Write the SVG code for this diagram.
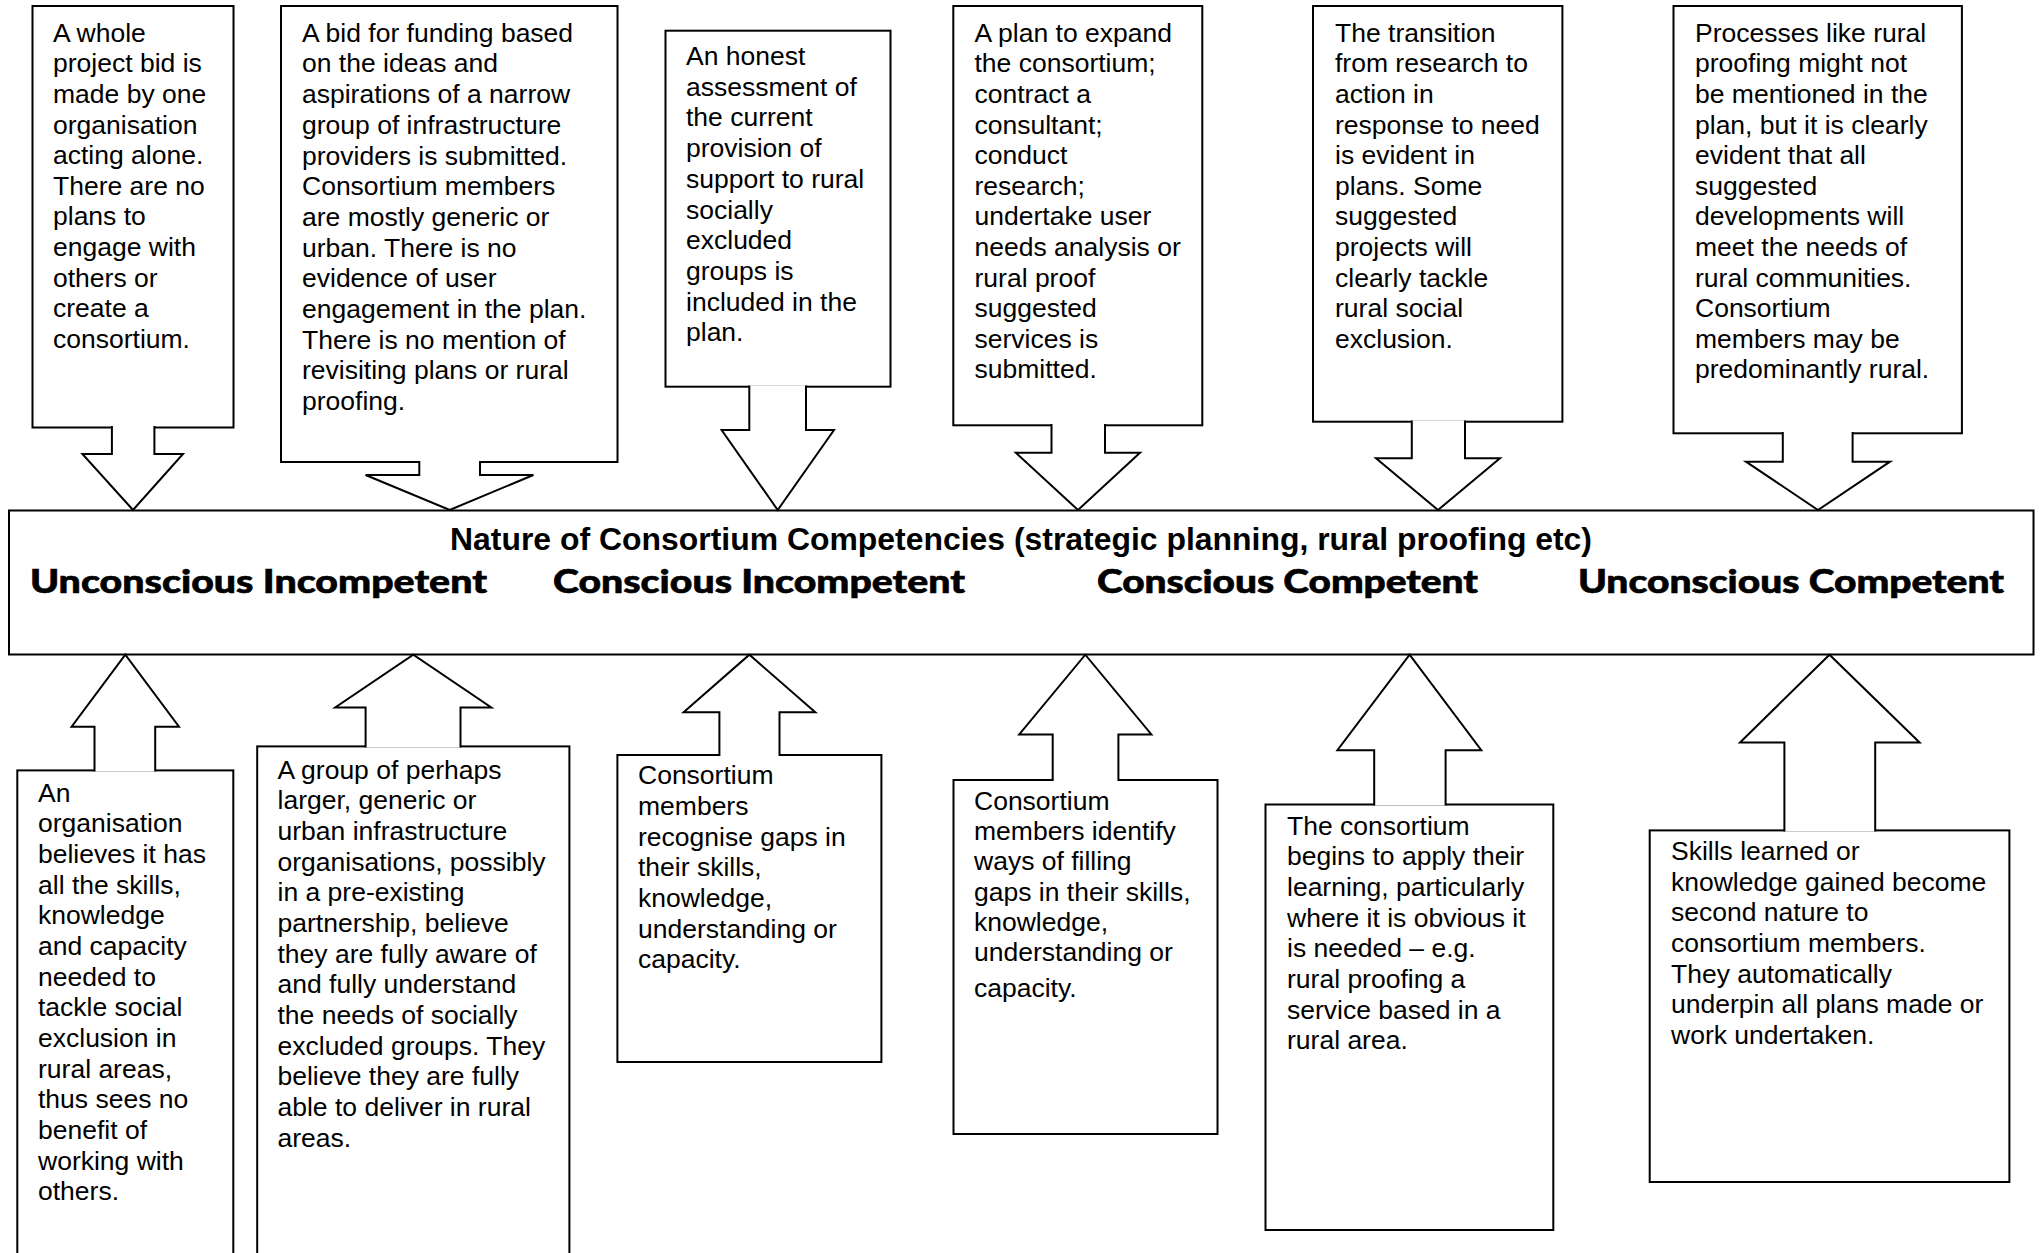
<svg xmlns="http://www.w3.org/2000/svg" width="2040" height="1253" viewBox="0 0 2040 1253">
  <style>
    .box { fill: #fff; stroke: #000; stroke-width: 2; }
    .arrow { fill: #fff; stroke: #000; stroke-width: 2; stroke-linejoin: miter; }
    .t { font-family: "Liberation Sans", Arial, Helvetica, sans-serif; font-size: 26.5px; fill: #000; }
    .head { font-family: "Liberation Sans", Arial, Helvetica, sans-serif; font-size: 31px; font-weight: bold; fill: #000; }
    .stage { font-family: "Arial Black", "Lato", "Inter", "Liberation Sans", sans-serif; font-size: 32px; font-weight: 900; fill: #000; stroke: #000; stroke-width: 0.6; }
  </style>
  <rect width="2040" height="1253" fill="#fff"/>

  <!-- central band: competency scale -->
  <g id="scale">
    <rect class="box" x="9" y="510.5" width="2024.5" height="144"/>
    <text class="head" x="1021" y="550" text-anchor="middle" textLength="1142" lengthAdjust="spacingAndGlyphs">Nature of Consortium Competencies (strategic planning, rural proofing etc)</text>
    <text class="stage" x="30" y="593" textLength="457" lengthAdjust="spacingAndGlyphs">Unconscious Incompetent</text>
    <text class="stage" x="553" y="593" textLength="412" lengthAdjust="spacingAndGlyphs">Conscious Incompetent</text>
    <text class="stage" x="1097" y="593" textLength="381" lengthAdjust="spacingAndGlyphs">Conscious Competent</text>
    <text class="stage" x="1578" y="593" textLength="426" lengthAdjust="spacingAndGlyphs">Unconscious Competent</text>
  </g>

  <!-- upper descriptions (plans) -->
  <g id="plan-1">
    <rect class="box" x="32.5" y="6" width="201" height="421.5"/>
    <text class="t" x="53" y="41.7"><tspan x="53">A whole</tspan><tspan x="53" dy="30.6">project bid is</tspan><tspan x="53" dy="30.6">made by one</tspan><tspan x="53" dy="30.6">organisation</tspan><tspan x="53" dy="30.6">acting alone.</tspan><tspan x="53" dy="30.6">There are no</tspan><tspan x="53" dy="30.6">plans to</tspan><tspan x="53" dy="30.6">engage with</tspan><tspan x="53" dy="30.6">others or</tspan><tspan x="53" dy="30.6">create a</tspan><tspan x="53" dy="30.6">consortium.</tspan></text>
  </g>
  <g id="plan-2">
    <rect class="box" x="281" y="6" width="336.5" height="456"/>
    <text class="t" x="302" y="41.7"><tspan x="302">A bid for funding based</tspan><tspan x="302" dy="30.7">on the ideas and</tspan><tspan x="302" dy="30.7">aspirations of a narrow</tspan><tspan x="302" dy="30.7">group of infrastructure</tspan><tspan x="302" dy="30.7">providers is submitted.</tspan><tspan x="302" dy="30.7">Consortium members</tspan><tspan x="302" dy="30.7">are mostly generic or</tspan><tspan x="302" dy="30.7">urban. There is no</tspan><tspan x="302" dy="30.7">evidence of user</tspan><tspan x="302" dy="30.7">engagement in the plan.</tspan><tspan x="302" dy="30.7">There is no mention of</tspan><tspan x="302" dy="30.7">revisiting plans or rural</tspan><tspan x="302" dy="30.7">proofing.</tspan></text>
  </g>
  <g id="plan-3">
    <rect class="box" x="665.5" y="30.7" width="225" height="356"/>
    <text class="t" x="686" y="65"><tspan x="686">An honest</tspan><tspan x="686" dy="30.7">assessment of</tspan><tspan x="686" dy="30.7">the current</tspan><tspan x="686" dy="30.7">provision of</tspan><tspan x="686" dy="30.7">support to rural</tspan><tspan x="686" dy="30.7">socially</tspan><tspan x="686" dy="30.7">excluded</tspan><tspan x="686" dy="30.7">groups is</tspan><tspan x="686" dy="30.7">included in the</tspan><tspan x="686" dy="30.7">plan.</tspan></text>
  </g>
  <g id="plan-4">
    <rect class="box" x="953.3" y="6" width="249" height="419.3"/>
    <text class="t" x="974.5" y="41.7"><tspan x="974.5">A plan to expand</tspan><tspan x="974.5" dy="30.6">the consortium;</tspan><tspan x="974.5" dy="30.6">contract a</tspan><tspan x="974.5" dy="30.6">consultant;</tspan><tspan x="974.5" dy="30.6">conduct</tspan><tspan x="974.5" dy="30.6">research;</tspan><tspan x="974.5" dy="30.6">undertake user</tspan><tspan x="974.5" dy="30.6">needs analysis or</tspan><tspan x="974.5" dy="30.6">rural proof</tspan><tspan x="974.5" dy="30.6">suggested</tspan><tspan x="974.5" dy="30.6">services is</tspan><tspan x="974.5" dy="30.6">submitted.</tspan></text>
  </g>
  <g id="plan-5">
    <rect class="box" x="1313" y="6" width="249.4" height="415.7"/>
    <text class="t" x="1335" y="41.7"><tspan x="1335">The transition</tspan><tspan x="1335" dy="30.6">from research to</tspan><tspan x="1335" dy="30.6">action in</tspan><tspan x="1335" dy="30.6">response to need</tspan><tspan x="1335" dy="30.6">is evident in</tspan><tspan x="1335" dy="30.6">plans. Some</tspan><tspan x="1335" dy="30.6">suggested</tspan><tspan x="1335" dy="30.6">projects will</tspan><tspan x="1335" dy="30.6">clearly tackle</tspan><tspan x="1335" dy="30.6">rural social</tspan><tspan x="1335" dy="30.6">exclusion.</tspan></text>
  </g>
  <g id="plan-6">
    <rect class="box" x="1673.5" y="6" width="288.4" height="427.3"/>
    <text class="t" x="1695" y="41.7"><tspan x="1695">Processes like rural</tspan><tspan x="1695" dy="30.6">proofing might not</tspan><tspan x="1695" dy="30.6">be mentioned in the</tspan><tspan x="1695" dy="30.6">plan, but it is clearly</tspan><tspan x="1695" dy="30.6">evident that all</tspan><tspan x="1695" dy="30.6">suggested</tspan><tspan x="1695" dy="30.6">developments will</tspan><tspan x="1695" dy="30.6">meet the needs of</tspan><tspan x="1695" dy="30.6">rural communities.</tspan><tspan x="1695" dy="30.6">Consortium</tspan><tspan x="1695" dy="30.6">members may be</tspan><tspan x="1695" dy="30.6">predominantly rural.</tspan></text>
  </g>

  <!-- lower descriptions (members) -->
  <g id="member-1">
    <rect class="box" x="17.3" y="770.4" width="216" height="500"/>
    <text class="t" x="38" y="801.6"><tspan x="38">An</tspan><tspan x="38" dy="30.67">organisation</tspan><tspan x="38" dy="30.67">believes it has</tspan><tspan x="38" dy="30.67">all the skills,</tspan><tspan x="38" dy="30.67">knowledge</tspan><tspan x="38" dy="30.67">and capacity</tspan><tspan x="38" dy="30.67">needed to</tspan><tspan x="38" dy="30.67">tackle social</tspan><tspan x="38" dy="30.67">exclusion in</tspan><tspan x="38" dy="30.67">rural areas,</tspan><tspan x="38" dy="30.67">thus sees no</tspan><tspan x="38" dy="30.67">benefit of</tspan><tspan x="38" dy="30.67">working with</tspan><tspan x="38" dy="30.67">others.</tspan></text>
  </g>
  <g id="member-2">
    <rect class="box" x="257.2" y="746.4" width="312.2" height="520"/>
    <text class="t" x="277.5" y="778.6"><tspan x="277.5">A group of perhaps</tspan><tspan x="277.5" dy="30.67">larger, generic or</tspan><tspan x="277.5" dy="30.67">urban infrastructure</tspan><tspan x="277.5" dy="30.67">organisations, possibly</tspan><tspan x="277.5" dy="30.67">in a pre-existing</tspan><tspan x="277.5" dy="30.67">partnership, believe</tspan><tspan x="277.5" dy="30.67">they are fully aware of</tspan><tspan x="277.5" dy="30.67">and fully understand</tspan><tspan x="277.5" dy="30.67">the needs of socially</tspan><tspan x="277.5" dy="30.67">excluded groups. They</tspan><tspan x="277.5" dy="30.67">believe they are fully</tspan><tspan x="277.5" dy="30.67">able to deliver in rural</tspan><tspan x="277.5" dy="30.67">areas.</tspan></text>
  </g>
  <g id="member-3">
    <rect class="box" x="617.4" y="755" width="264" height="307"/>
    <text class="t" x="638" y="784.3"><tspan x="638">Consortium</tspan><tspan x="638" dy="30.67">members</tspan><tspan x="638" dy="30.67">recognise gaps in</tspan><tspan x="638" dy="30.67">their skills,</tspan><tspan x="638" dy="30.67">knowledge,</tspan><tspan x="638" dy="30.67">understanding or</tspan><tspan x="638" dy="30.67">capacity.</tspan></text>
  </g>
  <g id="member-4">
    <rect class="box" x="953.5" y="780" width="264" height="354"/>
    <text class="t" x="974" y="809.8"><tspan x="974">Consortium</tspan><tspan x="974" dy="30.3">members identify</tspan><tspan x="974" dy="30.3">ways of filling</tspan><tspan x="974" dy="30.3">gaps in their skills,</tspan><tspan x="974" dy="30.3">knowledge,</tspan><tspan x="974" dy="30.3">understanding or</tspan><tspan x="974" dy="36">capacity.</tspan></text>
  </g>
  <g id="member-5">
    <rect class="box" x="1265.5" y="804.5" width="287.8" height="425.5"/>
    <text class="t" x="1287" y="834.8"><tspan x="1287">The consortium</tspan><tspan x="1287" dy="30.67">begins to apply their</tspan><tspan x="1287" dy="30.67">learning, particularly</tspan><tspan x="1287" dy="30.67">where it is obvious it</tspan><tspan x="1287" dy="30.67">is needed – e.g.</tspan><tspan x="1287" dy="30.67">rural proofing a</tspan><tspan x="1287" dy="30.67">service based in a</tspan><tspan x="1287" dy="30.67">rural area.</tspan></text>
  </g>
  <g id="member-6">
    <rect class="box" x="1649.7" y="830.4" width="359.7" height="351.6"/>
    <text class="t" x="1671" y="860"><tspan x="1671">Skills learned or</tspan><tspan x="1671" dy="30.67">knowledge gained become</tspan><tspan x="1671" dy="30.67">second nature to</tspan><tspan x="1671" dy="30.67">consortium members.</tspan><tspan x="1671" dy="30.67">They automatically</tspan><tspan x="1671" dy="30.67">underpin all plans made or</tspan><tspan x="1671" dy="30.67">work undertaken.</tspan></text>
  </g>

  <!-- block arrows joining each description to the scale -->
  <g id="connectors">
    <!-- downward arrows from the plan boxes -->
    <path class="arrow" d="M111.9,426 V454 H82.4 L133,510 L183,454 H154.4 V426"/>
    <path class="arrow" d="M419.3,461 V475 H365.6 L449.7,510 L533.4,475 H480 V461"/>
    <path class="arrow" d="M749.3,385.5 V430 H721.6 L777.7,510 L834,430 H806 V385.5"/>
    <path class="arrow" d="M1051.5,424 V452.7 H1015.8 L1078,510 L1140,452.7 H1105 V424"/>
    <path class="arrow" d="M1411.8,420.5 V458.3 H1376 L1438,510 L1500,458.3 H1465 V420.5"/>
    <path class="arrow" d="M1782.8,432 V461.7 H1746 L1818,510 L1890,461.7 H1852.6 V432"/>
    <!-- upward arrows from the member boxes -->
    <path class="arrow" d="M94.5,771.5 V726.7 H71.6 L125.3,654.7 L179,726.7 H155.2 V771.5"/>
    <path class="arrow" d="M365.6,747.5 V707.5 H335.2 L413.3,654.7 L491.3,707.5 H460.5 V747.5"/>
    <path class="arrow" d="M719.4,756 V712.3 H683.6 L749.4,654.7 L815.3,712.3 H779.5 V756"/>
    <path class="arrow" d="M1052.7,781 V734.4 H1019.2 L1085.3,654.7 L1151.4,734.4 H1118.4 V781"/>
    <path class="arrow" d="M1374.2,805.5 V750.2 H1337.4 L1409.6,654.7 L1481.3,750.2 H1445.6 V805.5"/>
    <path class="arrow" d="M1784.4,831.5 V742.5 H1740 L1829.5,654.7 L1919.6,742.5 H1875.2 V831.5"/>
  </g>
</svg>
